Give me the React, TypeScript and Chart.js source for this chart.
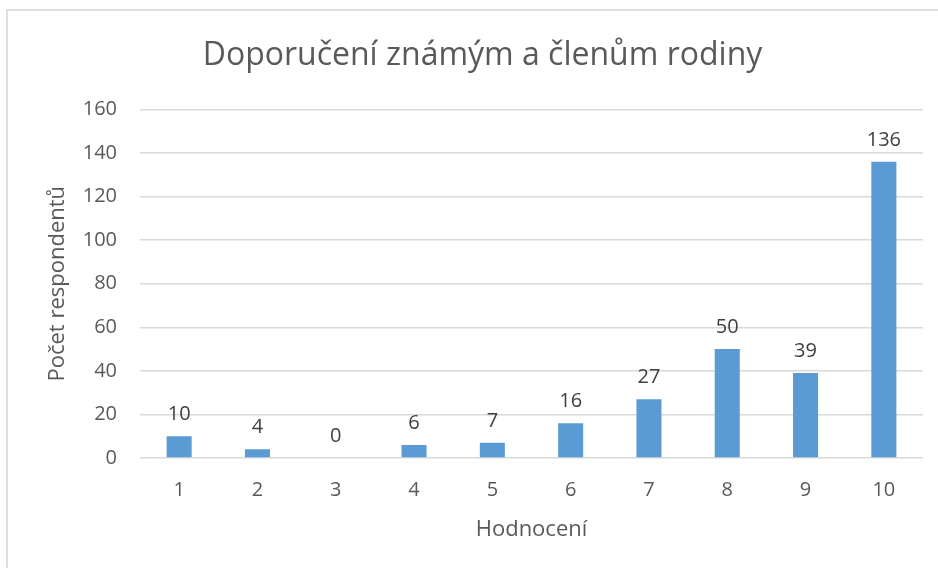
import React, { useEffect, useRef } from "react";
import { Chart, registerables } from "chart.js";

Chart.register(...registerables);

const categories = ["1", "2", "3", "4", "5", "6", "7", "8", "9", "10"];
const respondents = [10, 4, 0, 6, 7, 16, 27, 50, 39, 136];
const yTicks = [0, 20, 40, 60, 80, 100, 120, 140, 160];
const chartTitle = "Doporučení známým a členům rodiny";
const yTitle = "Počet respondentů";
const xTitle = "Hodnocení";

const FONT = "'Open Sans'";
const TEXT = "#595959";
const LABEL = "#404040";
const GRID = "#D9D9D9";
const BAR = "#5B9BD5";

const valueLabels = {
  id: "valueLabels",
  afterDatasetsDraw(chart: any) {
    const ctx = chart.ctx;
    const meta = chart.getDatasetMeta(0);
    ctx.save();
    ctx.font = `20px ${FONT}`;
    ctx.fillStyle = LABEL;
    ctx.textAlign = "center";
    ctx.textBaseline = "alphabetic";
    meta.data.forEach((el: any, i: number) => {
      ctx.fillText(String(respondents[i]), el.x, el.y - 16);
    });
    ctx.restore();
  },
};

export default function App() {
  const ref = useRef<HTMLCanvasElement | null>(null);
  useEffect(() => {
    if (!ref.current) return;
    const chart = new Chart(ref.current, {
      type: "bar",
      data: {
        labels: categories,
        datasets: [
          {
            data: respondents,
            backgroundColor: BAR,
            borderWidth: 0,
            barPercentage: 0.4,
            categoryPercentage: 0.8,
          },
        ],
      },
      options: {
        responsive: false,
        animation: false,
        devicePixelRatio: 1,
        layout: { padding: { left: 42, right: 15, top: 0, bottom: 25 } },
        plugins: {
          legend: { display: false },
          tooltip: { enabled: false },
          title: {
            display: true,
            text: chartTitle,
            color: TEXT,
            font: { family: FONT, size: 32, weight: "normal" },
            padding: { top: 37, bottom: 34 },
          },
        },
        scales: {
          x: {
            grid: { display: false, drawTicks: false },
            border: { display: false },
            ticks: {
              color: TEXT,
              font: { family: FONT, size: 20 },
              padding: 20,
              maxRotation: 0,
            },
            title: {
              display: true,
              text: xTitle,
              color: TEXT,
              font: { family: FONT, size: 22 },
              padding: { top: 0, bottom: 0 },
            },
            afterFit(scale: any) {
              scale.height = 85;
            },
          },
          y: {
            min: 0,
            max: 160,
            grid: { color: GRID, lineWidth: 1.5, drawTicks: false },
            border: { display: false },
            afterBuildTicks(scale: any) {
              scale.ticks = yTicks.map((v) => ({ value: v }));
            },
            ticks: {
              color: TEXT,
              font: { family: FONT, size: 20 },
              padding: 23,
            },
            title: {
              display: true,
              text: yTitle,
              color: TEXT,
              font: { family: FONT, size: 22 },
              padding: { top: 3, bottom: 3 },
            },
            afterFit(scale: any) {
              scale.width = 98;
            },
          },
        },
      },
      plugins: [valueLabels],
    });
    return () => chart.destroy();
  }, []);

  return (
    <div
      style={{
        position: "fixed",
        left: 0,
        top: 0,
        width: 938,
        height: 568,
        background: "#ffffff",
        overflow: "hidden",
      }}
    >
      <div
        style={{
          position: "absolute",
          left: 6,
          top: 9,
          width: 960,
          height: 600,
          borderTop: "2px solid #DEDEDE",
          borderLeft: "2px solid #DEDEDE",
        }}
      />
      <canvas
        ref={ref}
        width={938}
        height={568}
        style={{ position: "absolute", left: 0, top: 0, width: 938, height: 568 }}
      />
    </div>
  );
}
